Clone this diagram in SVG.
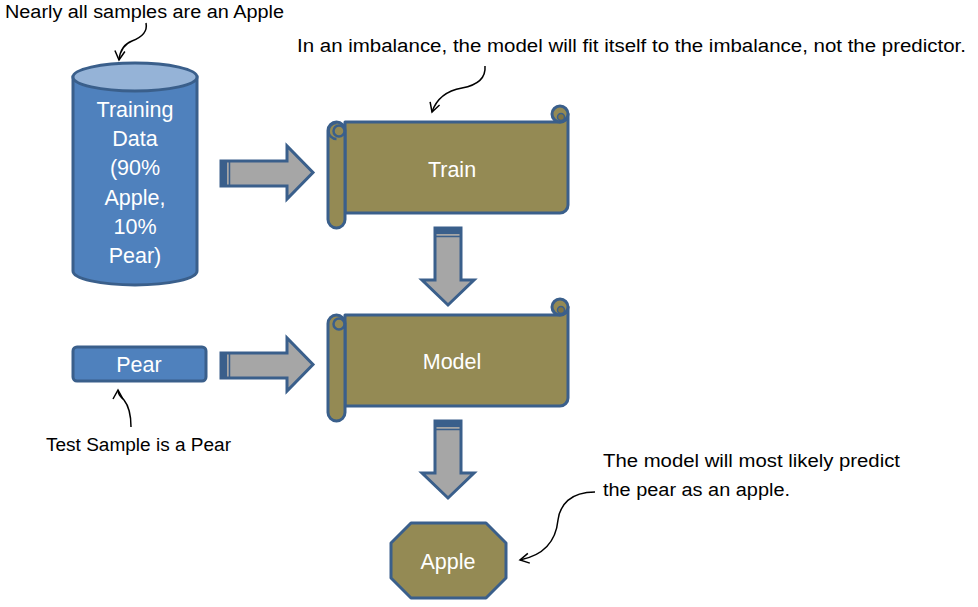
<svg xmlns="http://www.w3.org/2000/svg" width="978" height="607" viewBox="0 0 978 607">
<style>
.lbl{font-family:"Liberation Sans",Arial,sans-serif;fill:#fff;font-size:21.5px;text-anchor:middle}
.ann{font-family:"Liberation Sans",Arial,sans-serif;fill:#000;font-size:18px}
.olive{fill:#948A54;stroke:#3A5F8B;stroke-width:3;stroke-linejoin:round}
.blue{fill:#4F81BD;stroke:#3A5F8B;stroke-width:3}
.arr{fill:#A6A6A6;stroke:#3A5F8B;stroke-width:3;stroke-linejoin:miter}
.band{fill:#3A5F8B}
.cur{fill:none;stroke:#000;stroke-width:1.5;marker-end:url(#v)}
</style>
<defs>
<marker id="v" markerUnits="userSpaceOnUse" markerWidth="14" markerHeight="14" refX="10" refY="6" orient="auto">
<path d="M1,1 L10,6 L1,11" fill="none" stroke="#000" stroke-width="1.5"/>
</marker>
</defs>
<rect width="978" height="607" fill="#fff"/>

<g id="training-data">
<path class="blue" d="M73,77 V271 A62,14 0 0 0 197,271 V77 Z"/>
<ellipse cx="135" cy="77" rx="62" ry="14" fill="#95B3D7" stroke="#3A5F8B" stroke-width="3"/>
<text class="lbl" x="135" y="117">Training</text>
<text class="lbl" x="135" y="146">Data</text>
<text class="lbl" x="135" y="175">(90%</text>
<text class="lbl" x="135" y="205">Apple,</text>
<text class="lbl" x="135" y="234">10%</text>
<text class="lbl" x="135" y="263">Pear)</text>
</g>

<g id="train">
<path class="olive" d="M345,122 H560 A8,8 0 0 0 568,114 V205 A8,8 0 0 1 560,213 H345 Z"/>
<circle class="olive" cx="560" cy="114" r="8"/>
<circle cx="561" cy="117" r="3.5" fill="#7F7444" stroke="#3A5F8B" stroke-width="1.5"/>
<rect class="olive" x="328" y="122" width="17" height="106" rx="8.5"/>
<path d="M336.5,139 A8,8 0 0 1 336.5,123" fill="none" stroke="#3A5F8B" stroke-width="2.5"/>
<circle cx="339" cy="131" r="5.5" fill="#948A54" stroke="#3A5F8B" stroke-width="2.5"/>
<text class="lbl" x="452" y="177">Train</text>
</g>

<g id="model">
<path class="olive" d="M345,315 H560 A8,8 0 0 0 568,307 V398 A8,8 0 0 1 560,406 H345 Z"/>
<circle class="olive" cx="560" cy="307" r="8"/>
<circle cx="561" cy="310" r="3.5" fill="#7F7444" stroke="#3A5F8B" stroke-width="1.5"/>
<rect class="olive" x="328" y="315" width="17" height="106" rx="8.5"/>
<circle cx="339" cy="324" r="5.5" fill="#948A54" stroke="#3A5F8B" stroke-width="2.5"/>
<text class="lbl" x="452" y="369">Model</text>
</g>

<g id="pear">
<rect class="blue" x="73" y="347" width="133" height="34" rx="4"/>
<text class="lbl" x="139" y="372">Pear</text>
</g>

<g id="apple">
<path class="olive" d="M411,523 H486 L506,543 V578 L486,598 H411 L391,578 V543 Z"/>
<text class="lbl" x="448" y="569">Apple</text>
</g>

<g id="connectors">
<path class="arr" d="M221,161 H287 V146 L313,172.5 L287,199 V186 H221 Z"/>
<rect class="band" x="221" y="161" width="6" height="25"/>
<line x1="229.5" y1="161" x2="229.5" y2="186" stroke="#3A5F8B" stroke-width="1.5"/>

<path class="arr" d="M221,353 H287 V338 L313,364.5 L287,391 V378 H221 Z"/>
<rect class="band" x="221" y="353" width="6" height="25"/>
<line x1="229.5" y1="353" x2="229.5" y2="378" stroke="#3A5F8B" stroke-width="1.5"/>

<path class="arr" d="M435,228 V280 H422 L448,305 L474,280 H461 V228 Z"/>
<rect class="band" x="435" y="228" width="26" height="6"/>
<line x1="435" y1="236.5" x2="461" y2="236.5" stroke="#3A5F8B" stroke-width="1.5"/>

<path class="arr" d="M435,421 V473 H422 L448,498 L474,473 H461 V421 Z"/>
<rect class="band" x="435" y="421" width="26" height="6"/>
<line x1="435" y1="429.5" x2="461" y2="429.5" stroke="#3A5F8B" stroke-width="1.5"/>

<path class="cur" d="M146,23 C148,33 140,38 132,41 C124,44 120,50 119,60"/>
<path class="cur" d="M485,66 C486,78 478,85 462,88 C445,91 436,100 432,112"/>
<path class="cur" d="M131,427 C131,412 128,405 124,400 C120,396 118,394 118,390"/>
<path class="cur" d="M595,492 C570,492 560,505 558,520 C556,540 545,555 520,560"/>
</g>

<text class="ann" x="5" y="18" textLength="279" lengthAdjust="spacingAndGlyphs">Nearly all samples are an Apple</text>
<text class="ann" x="297" y="52" textLength="669" lengthAdjust="spacingAndGlyphs">In an imbalance, the model will fit itself to the imbalance, not the predictor.</text>
<text class="ann" x="46" y="451" textLength="185" lengthAdjust="spacingAndGlyphs">Test Sample is a Pear</text>
<text class="ann" x="603" y="467" textLength="297" lengthAdjust="spacingAndGlyphs">The model will most likely predict</text>
<text class="ann" x="603" y="496" textLength="187" lengthAdjust="spacingAndGlyphs">the pear as an apple.</text>
</svg>
